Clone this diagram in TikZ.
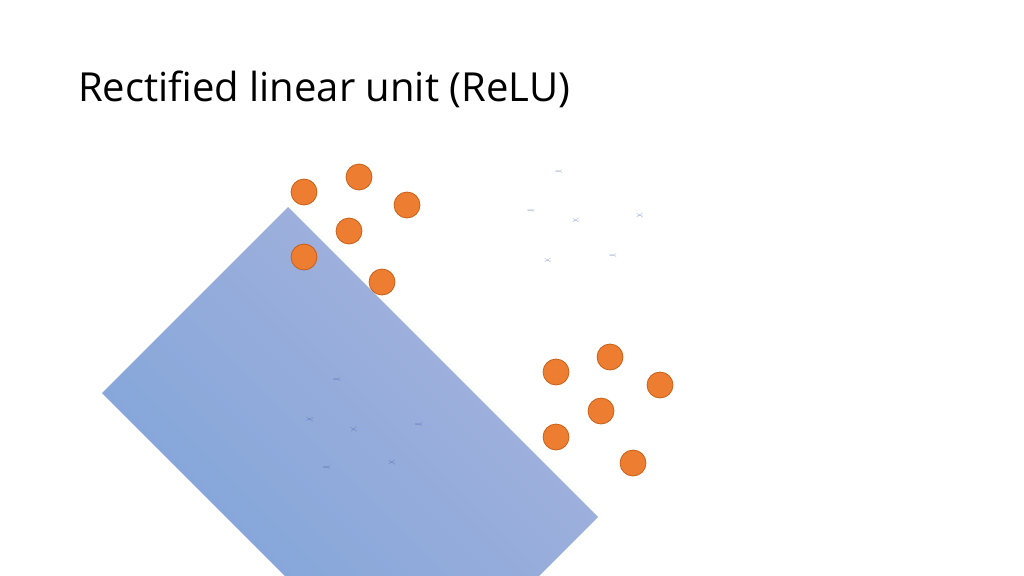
\documentclass[tikz,border=0pt]{standalone}
\usepackage{fontspec}
\setmainfont{Open Sans}
\definecolor{org}{HTML}{ED7D31}
\definecolor{orgd}{HTML}{C55A11}
\definecolor{blu}{HTML}{4472C4}
\definecolor{blud}{HTML}{2F528F}
\definecolor{rlight}{HTML}{A7B3DD}
\definecolor{rdark}{HTML}{7DA3D9}
\begin{document}
\begin{tikzpicture}[x=1pt,y=-1pt,
  dot/.style={circle,fill=org,draw=orgd,line width=0.7pt,minimum size=26pt,inner sep=0pt},
  cross/.style={minimum size=0pt,inner sep=0pt}]
\useasboundingbox (0,0) rectangle (1024,575);
\begin{scope}
\clip (0,0) rectangle (1024,575);
\shade[top color=rlight,bottom color=rdark,shading angle=-45] (288,207) -- (598,517) -- (412,703) -- (102,393) -- cycle;
\end{scope}
\node[anchor=base west,font=\fontsize{40}{48}\selectfont,inner sep=0pt] (title) at (78,102) {Rectified linear unit (ReLU)};
\foreach \n/\x/\y in {o1/304/192,o2/359/177,o3/407/205,o4/349/231,o5/304/257,o6/382/282,o7/556/372,o8/610/357,o9/660/385,o10/601/411,o11/556/437,o12/633/463}
  \node[dot] (\n) at (\x,\y) {};
\foreach \n/\x/\y in {b1/559/171,b2/531/210,b3/576/220,b4/640/215,b5/548/260,b6/613/255,c1/337/379,c2/310/419,c3/354/429,c4/419/424,c5/327/467,c6/392/462}{
  \node[cross] (\n) at (\x,\y) {};
  \draw[blud,line width=7.5pt] ([shift={(-8.5,-8.5)}]\n) -- ([shift={(8.5,8.5)}]\n) ([shift={(-8.5,8.5)}]\n) -- ([shift={(8.5,-8.5)}]\n);
  \draw[blu,line width=5.5pt] ([shift={(-8,-8)}]\n) -- ([shift={(8,8)}]\n) ([shift={(-8,8)}]\n) -- ([shift={(8,-8)}]\n);
}
\end{tikzpicture}
\end{document}
